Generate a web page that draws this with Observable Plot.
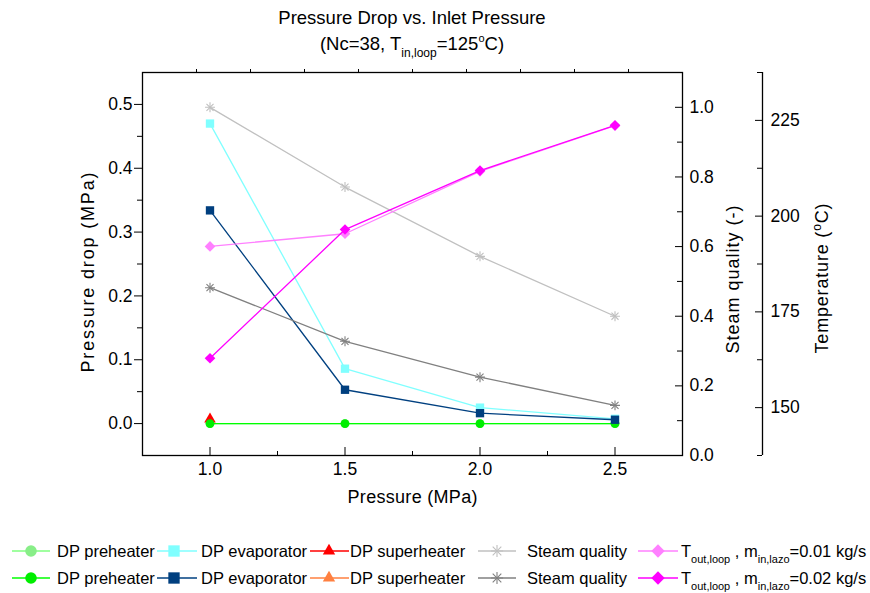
<!DOCTYPE html>
<html><head><meta charset="utf-8">
<script src="https://cdn.jsdelivr.net/npm/d3@7"></script>
<script src="https://cdn.jsdelivr.net/npm/@observablehq/plot@0.6"></script>
<style>
body{margin:0;background:#fff;font-family:"Liberation Sans",Arial,sans-serif;color:#000;}
#wrap{position:relative;width:870px;height:593px;overflow:hidden;}
.tl{position:absolute;left:142px;width:540px;text-align:center;font-size:18.5px;line-height:18.5px;white-space:nowrap;}
.sb{font-size:12px;position:relative;top:7px;}
.sp{font-size:11px;position:relative;top:-8px;}
#chart{position:absolute;left:0;top:62px;}
#legend{position:absolute;left:0;top:535px;}
</style></head><body>
<div id="wrap">
  <div class="tl" style="top:9px">Pressure Drop vs. Inlet Pressure</div>
  <div class="tl" style="top:35px">(Nc=38, T<span class="sb">in,loop</span>=125<span class="sp">o</span>C)</div>
  <div id="chart"></div>
  <svg id="legend" width="870" height="58"></svg>
</div>
<script>
// ---- data ----
const pressure = [1.0, 1.5, 2.0, 2.5];
const dpPreheater1 = [0, 0, 0, 0];
const dpEvaporator1 = [0.470, 0.086, 0.025, 0.0075];
const dpSuperheater1 = [0.007, null, null, null];
const dpPreheater2 = [0, 0, 0, 0];
const dpEvaporator2 = [0.334, 0.053, 0.0163, 0.006];
const dpSuperheater2 = [null, null, null, null];
const steamQuality1 = [1.0, 0.771, 0.572, 0.400];
const steamQuality2 = [0.482, 0.328, 0.225, 0.144];
const tOutLoop1 = [192.1, 195.4, 211.7, 223.6];
const tOutLoop2 = [162.9, 196.5, 211.9, 223.7];

const xTicks = [1.0, 1.5, 2.0, 2.5];
const xMinorTicks = [1.25, 1.75, 2.25];
const xTopTicks = [0.95, 1.15, 1.35, 1.55, 1.75, 1.95, 2.15, 2.35, 2.55];
const dpTicks = [0, 0.1, 0.2, 0.3, 0.4, 0.5];
const dpMinorTicks = [0.05, 0.15, 0.25, 0.35, 0.45];
const qTicks = [0, 0.2, 0.4, 0.6, 0.8, 1.0];
const qMinorTicks = [0.1, 0.3, 0.5, 0.7, 0.9];
const tTicks = [150, 175, 200, 225];
const tMinorTicks = [137.5, 162.5, 187.5, 212.5, 237.5];

const xDomain = [0.75, 2.75];
const yDomain = [-0.05, 0.55];
const qDomain = [0, 1.1];
const tDomain = [137.5, 237.5];

const xLabel = "Pressure (MPa)";
const dpLabel = "Pressure drop (MPa)";
const qLabel = "Steam quality (-)";
const tempLabel = "Temperature (oC)";

// ---- series options ----
const seriesDefs = [
  {values: dpPreheater1, axis: "dp", color: "#80ff80", mcolor: "#88ee88", symbol: "circle", row: 0, col: 0, label: [{t: "DP preheater"}]},
  {values: dpEvaporator1, axis: "dp", color: "#80ffff", mcolor: "#80ffff", symbol: "square", row: 0, col: 1, label: [{t: "DP evaporator"}]},
  {values: dpSuperheater1, axis: "dp", color: "#ff0000", mcolor: "#ff0000", symbol: "triangle", row: 0, col: 2, label: [{t: "DP superheater"}]},
  {values: dpPreheater2, axis: "dp", color: "#00ff00", mcolor: "#00ee00", symbol: "circle", row: 1, col: 0, label: [{t: "DP preheater"}]},
  {values: dpEvaporator2, axis: "dp", color: "#004080", mcolor: "#003f7f", symbol: "square", row: 1, col: 1, label: [{t: "DP evaporator"}]},
  {values: dpSuperheater2, axis: "dp", color: "#ff8040", mcolor: "#ff8040", symbol: "triangle", row: 1, col: 2, label: [{t: "DP superheater"}]},
  {values: steamQuality1, axis: "q", color: "#c0c0c0", mcolor: "#c0c0c0", symbol: "asterisk", row: 0, col: 3, label: [{t: "Steam quality"}]},
  {values: steamQuality2, axis: "q", color: "#808080", mcolor: "#808080", symbol: "asterisk", row: 1, col: 3, label: [{t: "Steam quality"}]},
  {values: tOutLoop1, axis: "t", color: "#ff80ff", mcolor: "#ff80ff", symbol: "diamond", row: 0, col: 4, label: [{t: "T"}, {t: "out,loop", sub: true}, {t: " , m"}, {t: "in,lazo", sub: true}, {t: "=0.01 kg/s"}]},
  {values: tOutLoop2, axis: "t", color: "#ff00ff", mcolor: "#ff00ff", symbol: "diamond", row: 1, col: 4, label: [{t: "T"}, {t: "out,loop", sub: true}, {t: " , m"}, {t: "in,lazo", sub: true}, {t: "=0.02 kg/s"}]}
];

const toY = (v, dom) => yDomain[0] + (v - dom[0]) / (dom[1] - dom[0]) * (yDomain[1] - yDomain[0]);
const fromY = (y, dom) => dom[0] + (y - yDomain[0]) / (yDomain[1] - yDomain[0]) * (dom[1] - dom[0]);
const conv = {dp: v => v, q: v => toY(v, qDomain), t: v => toY(v, tDomain)};

const fmt1 = d3.format(".1f");
const frameW = 540, frameH = 383, gap = 80;
const blank = () => "";
const font = "'Liberation Sans', Arial, sans-serif";

const marks = [];
for (const s of seriesDefs) {
  const rows = pressure.map((p, i) => ({x: p, v: s.values[i]}))
    .filter(d => d.v != null)
    .map(d => ({x: d.x, y: conv[s.axis](d.v)}));
  if (!rows.length) continue;
  marks.push(Plot.line(rows, {x: "x", y: "y", stroke: s.color, strokeWidth: 1.3}));
  if (s.symbol === "asterisk") {
    marks.push(Plot.dot(rows, {x: "x", y: "y", symbol: "plus", r: 3.3, stroke: s.mcolor, strokeWidth: 1.1}));
    marks.push(Plot.dot(rows, {x: "x", y: "y", symbol: "times", r: 3.3, stroke: s.mcolor, strokeWidth: 1.1}));
  } else {
    const sym = s.symbol === "diamond" ? "diamond2" : s.symbol;
    const r = {circle: 4.4, square: 4.7, triangle: 4.3, diamond: 4.8}[s.symbol];
    marks.push(Plot.dot(rows, {x: "x", y: "y", symbol: sym, r, fill: s.mcolor, stroke: "none"}));
  }
}

const titleOpts = {textAnchor: "middle", lineAnchor: "middle", fontSize: 18};

const chart = Plot.plot({
  width: 870, height: 455,
  marginTop: 10, marginBottom: 62, marginLeft: 142, marginRight: 188,
  x: {domain: xDomain},
  y: {domain: yDomain},
  style: {fontFamily: font, fontSize: "17.5px", color: "#000", background: "transparent", overflow: "visible"},
  marks: [
    ...marks,
    Plot.frame({stroke: "#000", strokeWidth: 1.3}),
    // left axis
    Plot.axisY(dpTicks, {anchor: "left", tickSize: 8, tickPadding: 2, tickFormat: fmt1, fontSize: 17.5, label: null}),
    Plot.axisY(dpMinorTicks, {anchor: "left", tickSize: 5, tickFormat: blank, label: null}),
    // steam quality axis (frame right, inward ticks)
    Plot.axisY(qTicks.map(q => toY(q, qDomain)), {anchor: "right", tickSize: 0, tickPadding: 7, tickFormat: y => fmt1(fromY(y, qDomain)), fontSize: 17.5, label: null}),
    Plot.axisY(qTicks.map(q => toY(q, qDomain)), {anchor: "left", dx: frameW, tickSize: 7, tickFormat: blank, label: null}),
    Plot.axisY(qMinorTicks.map(q => toY(q, qDomain)), {anchor: "left", dx: frameW, tickSize: 5, tickFormat: blank, label: null}),
    // temperature axis
    Plot.ruleX([xDomain[1]], {dx: gap, y1: yDomain[0], y2: yDomain[1], stroke: "#000", strokeWidth: 1.3}),
    Plot.axisY(tTicks.map(t => toY(t, tDomain)), {anchor: "right", dx: gap, tickSize: 0, tickPadding: 8, tickFormat: y => d3.format("d")(Math.round(fromY(y, tDomain))), fontSize: 17.5, label: null}),
    Plot.axisY(tTicks.map(t => toY(t, tDomain)), {anchor: "left", dx: frameW + gap, tickSize: 7, tickFormat: blank, label: null}),
    Plot.axisY(tMinorTicks.map(t => toY(t, tDomain)), {anchor: "left", dx: frameW + gap, tickSize: 5, tickFormat: blank, label: null}),
    // x axis
    Plot.axisX(xTicks, {anchor: "bottom", tickSize: 0, tickPadding: 7, tickFormat: fmt1, fontSize: 17.5, label: null}),
    Plot.axisX(xTicks, {anchor: "top", dy: frameH, tickSize: 9, tickFormat: blank, label: null}),
    Plot.axisX(xMinorTicks, {anchor: "top", dy: frameH, tickSize: 5, tickFormat: blank, label: null}),
    Plot.axisX(xTopTicks, {anchor: "top", tickSize: 4, tickFormat: blank, label: null}),
    // axis titles
    Plot.text([xLabel], {frameAnchor: "bottom", dy: 42, ...titleOpts}),
    Plot.text([dpLabel], {frameAnchor: "left", dx: -54, dy: 8.5, rotate: -90, ...titleOpts}),
    Plot.text([qLabel], {frameAnchor: "right", dx: 51, dy: 15.5, rotate: -90, ...titleOpts}),
    Plot.text([tempLabel], {frameAnchor: "right", dx: 140, dy: 14.5, rotate: -90, ...titleOpts})
  ]
});
document.getElementById("chart").appendChild(chart);

// stretch axis titles to the reference's lengths; superscript in temperature label
const titleLengths = {[xLabel]: 130, [dpLabel]: 200, [qLabel]: 148, [tempLabel]: 150};
d3.select(chart).selectAll("text").each(function () {
  const txt = this.textContent;
  if (txt in titleLengths) {
    const t = d3.select(this);
    t.attr("textLength", titleLengths[txt]).attr("lengthAdjust", "spacing");
    if (txt === tempLabel) {
      t.text(null);
      t.append("tspan").text("Temperature (");
      t.append("tspan").attr("dy", -7).attr("font-size", 12).text("o");
      t.append("tspan").attr("dy", 7).text("C)");
    }
  }
});

// ---- legend ----
const legendCols = [
  {l0: 12, l1: 50, m: 31, t: 57},
  {l0: 157, l1: 197, m: 174, t: 201},
  {l0: 310, l1: 349, m: 329, t: 350},
  {l0: 478, l1: 516, m: 497, t: 527},
  {l0: 638, l1: 678, m: 658, t: 681}
];
const legendRows = [16, 43];
const lg = d3.select("#legend").style("font-family", font);
const symMap = {circle: d3.symbolCircle, square: d3.symbolSquare, triangle: d3.symbolTriangle, diamond: d3.symbolDiamond2};
const lr = {circle: 5.8, square: 6.4, triangle: 4.6, diamond: 6.0};
for (const s of seriesDefs) {
  const c = legendCols[s.col], y = legendRows[s.row];
  const g = lg.append("g");
  g.append("line").attr("x1", c.l0).attr("x2", c.l1).attr("y1", y).attr("y2", y).attr("stroke", s.color).attr("stroke-width", 1.3);
  if (s.symbol === "asterisk") {
    for (const st of [d3.symbolPlus, d3.symbolTimes]) {
      g.append("path").attr("d", d3.symbol(st, Math.PI * 4 * 4)()).attr("transform", `translate(${c.m},${y})`)
        .attr("fill", "none").attr("stroke", s.mcolor).attr("stroke-width", 1.1);
    }
  } else {
    const r = lr[s.symbol];
    g.append("path").attr("d", d3.symbol(symMap[s.symbol], Math.PI * r * r)()).attr("transform", `translate(${c.m},${y})`)
      .attr("fill", s.mcolor);
  }
  const tx = g.append("text").attr("x", c.t).attr("y", y + 6).attr("font-size", 16.5).attr("fill", "#000");
  let shifted = 0;
  for (const part of s.label) {
    const dy = part.sub ? 6 - shifted : -shifted;
    shifted = part.sub ? 6 : 0;
    const sp = tx.append("tspan").attr("dy", dy).text(part.t);
    if (part.sub) sp.attr("font-size", 11);
  }
}
</script>
</body></html>
